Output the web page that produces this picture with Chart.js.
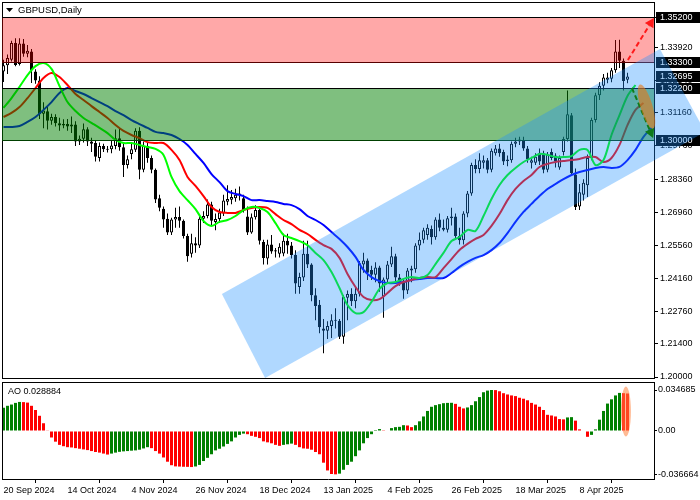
<!DOCTYPE html>
<html>
<head>
<meta charset="utf-8">
<script src="https://cdn.jsdelivr.net/npm/chart.js@4.4.1/dist/chart.umd.min.js"></script>
<style>
  html, body { margin: 0; padding: 0; background: #fff; }
  #wrap { position: relative; width: 700px; height: 500px; }
  #main { position: absolute; left: 0; top: 0; }
  #ao { position: absolute; left: 0; top: 380px; }
</style>
</head>
<body>
<div id="wrap">
  <canvas id="main" width="700" height="380"></canvas>
  <canvas id="ao" width="700" height="120"></canvas>
</div>
<script>
// GBPUSD daily candles, 20 Sep 2024 .. 24 Apr 2025
const opens = [1.3290,1.3316,1.3340,1.3410,1.3322,1.3408,1.3365,1.3375,1.3290,1.3252,
  1.3112,1.3122,1.3082,1.3098,1.3072,1.3062,1.3068,1.3058,1.3066,1.2995,
  1.3006,1.3046,1.2995,1.2988,1.2925,1.2975,1.2962,1.2962,1.2975,1.3008,
  1.2970,1.2895,1.2942,1.2960,1.3040,1.2875,1.2975,1.2925,1.2875,1.2755,
  1.2710,1.2668,1.2610,1.2665,1.2676,1.2660,1.2595,1.2520,1.2565,1.2555,
  1.2668,1.2680,1.2728,1.2655,1.2667,1.2690,1.2740,1.2748,1.2755,1.2768,
  1.2755,1.2678,1.2610,1.2675,1.2705,1.2570,1.2500,1.2560,1.2530,1.2520,
  1.2522,1.2575,1.2555,1.2515,1.2380,1.2420,1.2520,1.2475,1.2345,1.2305,
  1.2205,1.2195,1.2215,1.2240,1.2238,1.2170,1.2335,1.2350,1.2320,1.2352,
  1.2475,1.2492,1.2452,1.2432,1.2462,1.2340,1.2412,1.2475,1.2510,1.2420,
  1.2400,1.2365,1.2450,1.2455,1.2555,1.2580,1.2600,1.2625,1.2590,1.2665,
  1.2630,1.2622,1.2670,1.2678,1.2595,1.2578,1.2690,1.2775,1.2895,1.2878,
  1.2905,1.2915,1.2875,1.2945,1.2965,1.2950,1.2912,1.2915,1.2985,1.2995,
  1.3000,1.2965,1.2905,1.2905,1.2945,1.2945,1.2875,1.2950,1.2935,1.2885,
  1.2950,1.3005,1.3105,1.2855,1.2720,1.2770,1.2810,1.2925,1.3085,1.3190,
  1.3230,1.3255,1.3260,1.3295,1.3375,1.3335,1.3255];
const highs = [1.3340,1.3362,1.3420,1.3430,1.3431,1.3427,1.3402,1.3385,1.3300,1.3270,
  1.3160,1.3140,1.3112,1.3110,1.3095,1.3088,1.3090,1.3100,1.3080,1.3020,
  1.3070,1.3055,1.3010,1.3000,1.2990,1.2985,1.2975,1.3000,1.3045,1.3050,
  1.2985,1.2935,1.2990,1.3050,1.3055,1.2995,1.2990,1.2935,1.2880,1.2770,
  1.2720,1.2690,1.2672,1.2715,1.2720,1.2665,1.2605,1.2605,1.2590,1.2680,
  1.2700,1.2750,1.2740,1.2690,1.2710,1.2770,1.2810,1.2790,1.2795,1.2805,
  1.2770,1.2720,1.2690,1.2725,1.2720,1.2580,1.2580,1.2600,1.2545,1.2565,
  1.2605,1.2605,1.2570,1.2535,1.2440,1.2575,1.2575,1.2480,1.2375,1.2325,
  1.2245,1.2235,1.2265,1.2290,1.2245,1.2345,1.2365,1.2375,1.2380,1.2490,
  1.2525,1.2500,1.2470,1.2485,1.2470,1.2420,1.2490,1.2550,1.2520,1.2435,
  1.2410,1.2460,1.2470,1.2565,1.2610,1.2630,1.2645,1.2640,1.2675,1.2690,
  1.2665,1.2680,1.2715,1.2690,1.2630,1.2700,1.2785,1.2905,1.2920,1.2945,
  1.2935,1.2925,1.2965,1.2980,1.2985,1.2960,1.2935,1.2995,1.3010,1.3015,
  1.3015,1.2975,1.2930,1.2945,1.2965,1.2955,1.2950,1.2965,1.2945,1.2935,
  1.3015,1.3210,1.3115,1.2880,1.2815,1.2835,1.2940,1.3095,1.3200,1.3245,
  1.3280,1.3285,1.3305,1.3423,1.3424,1.3345,1.3285];
const lows = [1.3246,1.3280,1.3332,1.3312,1.3315,1.3352,1.3350,1.3242,1.3238,1.3090,
  1.3050,1.3045,1.3065,1.3058,1.3040,1.3050,1.3040,1.3030,1.2975,1.2980,
  1.2990,1.2975,1.2950,1.2910,1.2910,1.2950,1.2948,1.2945,1.2962,1.2955,
  1.2845,1.2880,1.2920,1.2950,1.2835,1.2865,1.2905,1.2860,1.2735,1.2700,
  1.2630,1.2600,1.2600,1.2630,1.2630,1.2585,1.2487,1.2505,1.2525,1.2545,
  1.2650,1.2670,1.2640,1.2620,1.2650,1.2680,1.2725,1.2730,1.2740,1.2745,
  1.2695,1.2600,1.2605,1.2665,1.2560,1.2475,1.2475,1.2520,1.2505,1.2505,
  1.2510,1.2520,1.2500,1.2352,1.2352,1.2405,1.2460,1.2320,1.2240,1.2185,
  1.2100,1.2160,1.2165,1.2205,1.2160,1.2140,1.2240,1.2300,1.2290,1.2340,
  1.2440,1.2410,1.2410,1.2400,1.2360,1.2250,1.2400,1.2465,1.2400,1.2385,
  1.2330,1.2350,1.2400,1.2440,1.2535,1.2565,1.2580,1.2560,1.2580,1.2615,
  1.2615,1.2610,1.2640,1.2585,1.2560,1.2560,1.2675,1.2765,1.2860,1.2860,
  1.2880,1.2860,1.2865,1.2935,1.2930,1.2895,1.2890,1.2905,1.2970,1.2980,
  1.2955,1.2905,1.2880,1.2895,1.2895,1.2860,1.2865,1.2915,1.2885,1.2875,
  1.2935,1.2995,1.2850,1.2705,1.2705,1.2745,1.2760,1.2915,1.3075,1.3170,
  1.3210,1.3240,1.3245,1.3285,1.3305,1.3210,1.3240];
const closes = [1.3316,1.3347,1.3410,1.3318,1.3408,1.3365,1.3378,1.3296,1.3252,1.3110,
  1.3125,1.3082,1.3098,1.3072,1.3062,1.3068,1.3058,1.3066,1.2995,1.3006,
  1.3046,1.2995,1.2985,1.2930,1.2975,1.2962,1.2960,1.2978,1.3008,1.2970,
  1.2895,1.2920,1.2962,1.3040,1.2875,1.2975,1.2925,1.2875,1.2750,1.2715,
  1.2665,1.2610,1.2665,1.2676,1.2660,1.2595,1.2510,1.2565,1.2555,1.2668,
  1.2680,1.2728,1.2660,1.2667,1.2695,1.2745,1.2752,1.2760,1.2770,1.2775,
  1.2705,1.2610,1.2675,1.2705,1.2575,1.2503,1.2560,1.2530,1.2535,1.2550,
  1.2575,1.2555,1.2515,1.2395,1.2422,1.2520,1.2475,1.2345,1.2300,1.2210,
  1.2195,1.2215,1.2240,1.2238,1.2170,1.2338,1.2350,1.2320,1.2352,1.2480,
  1.2492,1.2440,1.2432,1.2462,1.2395,1.2412,1.2475,1.2510,1.2420,1.2400,
  1.2365,1.2450,1.2458,1.2555,1.2580,1.2620,1.2630,1.2590,1.2665,1.2630,
  1.2622,1.2670,1.2678,1.2595,1.2578,1.2690,1.2775,1.2895,1.2878,1.2915,
  1.2915,1.2875,1.2955,1.2965,1.2945,1.2910,1.2918,1.2985,1.2995,1.3003,
  1.2965,1.2920,1.2915,1.2930,1.2910,1.2875,1.2940,1.2925,1.2910,1.2925,
  1.3005,1.3110,1.2860,1.2718,1.2780,1.2820,1.2925,1.3085,1.3190,1.3230,
  1.3265,1.3265,1.3295,1.3375,1.3335,1.3250,1.32695];

// Alligator lines, one reading every LINE_STEP bars (they run a few bars past the last candle)
const LINE_STEP = 2;
const lipsLine = [1.3136,1.3178,1.3225,1.3275,1.3313,1.3326,1.3301,1.3229,1.3161,1.3123,
  1.3094,1.3073,1.3052,1.3030,1.3001,1.2988,1.2988,1.2980,1.2971,1.2963,
  1.2938,1.2845,1.2785,1.2747,1.2709,1.2659,1.2638,1.2655,1.2663,1.2680,
  1.2705,1.2718,1.2714,1.2697,1.2650,1.2600,1.2587,1.2574,1.2557,1.2524,
  1.2494,1.2443,1.2376,1.2304,1.2270,1.2274,1.2317,1.2372,1.2397,1.2401,
  1.2414,1.2422,1.2418,1.2431,1.2477,1.2524,1.2574,1.2591,1.2621,1.2617,
  1.2680,1.2752,1.2811,1.2853,1.2883,1.2908,1.2925,1.2942,1.2938,1.2929,
  1.2929,1.2933,1.2959,1.2959,1.2895,1.2916,1.3022,1.3106,1.3187,1.3233];
const teethLine = [1.3098,1.3115,1.3140,1.3178,1.3220,1.3263,1.3284,1.3267,1.3233,1.3195,
  1.3170,1.3144,1.3119,1.3094,1.3064,1.3039,1.3022,1.3009,1.2992,1.2988,
  1.2988,1.2959,1.2916,1.2845,1.2807,1.2764,1.2718,1.2697,1.2693,1.2693,
  1.2705,1.2714,1.2718,1.2714,1.2688,1.2663,1.2646,1.2621,1.2604,1.2579,
  1.2557,1.2541,1.2503,1.2435,1.2380,1.2338,1.2325,1.2329,1.2355,1.2384,
  1.2401,1.2410,1.2418,1.2422,1.2422,1.2460,1.2498,1.2536,1.2562,1.2583,
  1.2600,1.2638,1.2688,1.2747,1.2794,1.2828,1.2853,1.2887,1.2900,1.2908,
  1.2912,1.2916,1.2921,1.2929,1.2929,1.2908,1.2925,1.2980,1.3064,1.3128,
  1.3157];
const jawLine = [1.3056,1.3056,1.3060,1.3077,1.3098,1.3128,1.3161,1.3199,1.3220,1.3208,
  1.3195,1.3178,1.3161,1.3144,1.3123,1.3106,1.3085,1.3068,1.3052,1.3035,
  1.3030,1.3022,1.3005,1.2980,1.2942,1.2904,1.2857,1.2823,1.2785,1.2773,
  1.2764,1.2747,1.2747,1.2743,1.2739,1.2731,1.2726,1.2709,1.2680,1.2663,
  1.2642,1.2612,1.2583,1.2549,1.2507,1.2452,1.2422,1.2405,1.2397,1.2397,
  1.2401,1.2410,1.2414,1.2418,1.2418,1.2418,1.2439,1.2465,1.2486,1.2503,
  1.2515,1.2536,1.2566,1.2608,1.2655,1.2697,1.2731,1.2764,1.2794,1.2815,
  1.2836,1.2853,1.2866,1.2874,1.2883,1.2887,1.2883,1.2887,1.2916,1.2959,
  1.3014,1.3052];

// Awesome Oscillator, one value per candle
const aoValues = [0.01968,0.02132,0.02239,0.02378,0.0246,0.02444,0.02403,0.02132,0.01779,0.01287,
  0.00656,0.00057,-0.00549,-0.00902,-0.01173,-0.01287,-0.01369,-0.01394,-0.01451,-0.01501,
  -0.01558,-0.01615,-0.01697,-0.01779,-0.01829,-0.01911,-0.01993,-0.01911,-0.01829,-0.01763,
  -0.01722,-0.01697,-0.01665,-0.0164,-0.01583,-0.01476,-0.01369,-0.01451,-0.01697,-0.01911,
  -0.02239,-0.02599,-0.02895,-0.02993,-0.03009,-0.03026,-0.03034,-0.0305,-0.03001,-0.0287,
  -0.02542,-0.02271,-0.01968,-0.0164,-0.01501,-0.01312,-0.01091,-0.00877,-0.00549,-0.00328,
  -0.00221,-0.00271,-0.0041,-0.00492,-0.00599,-0.00877,-0.00959,-0.01041,-0.01173,-0.01255,
  -0.01173,-0.01123,-0.01066,-0.01173,-0.01369,-0.01476,-0.01501,-0.01583,-0.01779,-0.01968,
  -0.02681,-0.03337,-0.0364,-0.036664,-0.03608,-0.0328,-0.0287,-0.02599,-0.02132,-0.0164,
  -0.01041,-0.00599,-0.00271,0.00082,0.00164,0.00066,0.00041,0.00246,0.00328,0.00353,
  0.00492,0.00467,0.00328,0.00492,0.0082,0.0123,0.01697,0.0205,0.02189,0.02271,
  0.02353,0.02378,0.02386,0.02296,0.0205,0.01911,0.01993,0.02189,0.02517,0.0287,
  0.0328,0.03419,0.034685,0.0346,0.03362,0.03198,0.03091,0.03009,0.02952,0.02813,
  0.02731,0.02599,0.02378,0.02239,0.0205,0.01779,0.01369,0.01312,0.0123,0.01009,
  0.00984,0.01148,0.01173,0.00877,0.00139,-0.00041,-0.00492,-0.00328,0.00139,0.00959,
  0.01697,0.02321,0.02681,0.03009,0.03223,0.03198,0.03173];
const aoCaption = 'AO 0.028884';

// axis labels
const tickLabels = ['20 Sep 2024','14 Oct 2024','4 Nov 2024','26 Nov 2024','18 Dec 2024',
  '13 Jan 2025','4 Feb 2025','26 Feb 2025','18 Mar 2025','8 Apr 2025'];
const TICK_EVERY = 16;
const priceTicks = [1.3520,1.3392,1.3254,1.3116,1.2976,1.2836,1.2696,1.2556,1.2416,1.2276,1.2140,1.2000];
const aoTicks = [0.034685, 0, -0.036664];

// drawn objects on the price chart (bar index, price)
const markedPrices = [1.35200, 1.33300, 1.32695, 1.32200, 1.30000];
const levelLines = [1.3520, 1.3330, 1.3220, 1.3000];
const resistZone = [1.3330, 1.3520];
const supportZone = [1.3000, 1.3220];
const channel = [[54.6, 1.23505], [164.1, 1.33852], [175.4, 1.30347], [65.4, 1.19958]];
const upArrow = [[156.1, 1.33387], [162.6, 1.35161]];
const downArrow = [[157.1, 1.32205], [162.4, 1.30093]];
const priceMark = [160.75, 1.31423];
const aoMark = [155.6, 0.0165];

// view
const X_MIN = -0.375, X_MAX = 162.625;
const PRICE_MIN = 1.19958, PRICE_MAX = 1.35836;
const AO_MIN = -0.040609, AO_MAX = 0.041455;
const FONT = 'Liberation Sans';

function arrow(ctx, x1, y1, x2, y2, color) {
  const ang = Math.atan2(y2 - y1, x2 - x1), head = 9;
  const bx = x2 - head * Math.cos(ang), by = y2 - head * Math.sin(ang);
  ctx.strokeStyle = color;
  ctx.lineWidth = 2;
  ctx.setLineDash([5, 3]);
  ctx.beginPath();
  ctx.moveTo(x1, y1);
  ctx.lineTo(bx, by);
  ctx.stroke();
  ctx.setLineDash([]);
  ctx.fillStyle = color;
  ctx.beginPath();
  ctx.moveTo(x2, y2);
  ctx.lineTo(bx + 5 * Math.sin(ang), by - 5 * Math.cos(ang));
  ctx.lineTo(bx - 5 * Math.sin(ang), by + 5 * Math.cos(ang));
  ctx.closePath();
  ctx.fill();
}

function frame(ctx, a) {
  ctx.fillStyle = '#000';
  ctx.fillRect(a.left, a.top, 1, a.bottom - a.top);
  ctx.fillRect(a.left, a.top, a.right - a.left, 1);
}

const priceOverlay = {
  id: 'priceOverlay',
  afterDatasetsDraw(chart) {
    const { ctx, chartArea: a, scales: { x, y } } = chart;
    const px = i => x.getPixelForValue(i), py = v => y.getPixelForValue(v);
    const w = a.right - a.left;
    ctx.save();
    frame(ctx, a);
    ctx.fillRect(a.left, a.bottom, w + 1, 1);
    // horizontal levels
    levelLines.forEach(v => ctx.fillRect(a.left, Math.round(py(v)), w, 1));
    // zones
    const zone = (lo, hi, col) => {
      const t = Math.round(py(hi)) + 1, b = Math.round(py(lo)) + 1;
      ctx.fillStyle = col;
      ctx.fillRect(a.left, t, w, b - t);
    };
    zone(resistZone[0], resistZone[1], 'rgba(255,0,0,0.34)');
    zone(supportZone[0], supportZone[1], 'rgba(0,128,0,0.5)');
    // price boxes on the axis
    ctx.font = '9px "' + FONT + '"';
    ctx.textBaseline = 'middle';
    markedPrices.forEach(v => {
      const yy = Math.round(py(v));
      ctx.fillStyle = '#000';
      ctx.fillRect(a.right + 2, yy - 5, 46, 11);
      ctx.fillStyle = '#fff';
      ctx.fillText(v.toFixed(5), a.right + 6, yy + 0.5);
    });
    // rising channel
    ctx.beginPath();
    channel.forEach(([i, v], k) => k ? ctx.lineTo(px(i), py(v)) : ctx.moveTo(px(i), py(v)));
    ctx.closePath();
    ctx.fillStyle = 'rgba(30,144,255,0.35)';
    ctx.fill();
    // scenario arrows
    arrow(ctx, px(upArrow[0][0]), py(upArrow[0][1]), px(upArrow[1][0]), py(upArrow[1][1]), '#ff1a1a');
    arrow(ctx, px(downArrow[0][0]), py(downArrow[0][1]), px(downArrow[1][0]), py(downArrow[1][1]), '#0f7a1a');
    ctx.fillStyle = 'rgba(230,120,20,0.6)';
    ctx.beginPath();
    ctx.ellipse(px(priceMark[0]), py(priceMark[1]), 6, 23, -0.29, 0, Math.PI * 2);
    ctx.fill();
    ctx.restore();
  },
  afterDraw(chart) {
    const ctx = chart.ctx;
    ctx.save();
    ctx.fillStyle = '#000';
    ctx.beginPath();
    ctx.moveTo(6, 8); ctx.lineTo(13, 8); ctx.lineTo(9.5, 12);
    ctx.closePath();
    ctx.fill();
    ctx.font = '9.5px "' + FONT + '"';
    ctx.textBaseline = 'middle';
    ctx.fillText('GBPUSD,Daily', 18, 10.5);
    ctx.restore();
  }
};

const aoOverlay = {
  id: 'aoOverlay',
  afterDatasetsDraw(chart) {
    const { ctx, chartArea: a, scales: { x, y } } = chart;
    ctx.save();
    frame(ctx, a);
    ctx.fillStyle = 'rgba(255,130,60,0.55)';
    ctx.beginPath();
    ctx.ellipse(x.getPixelForValue(aoMark[0]), y.getPixelForValue(aoMark[1]), 5, 25, 0, 0, Math.PI * 2);
    ctx.fill();
    ctx.fillStyle = '#000';
    ctx.font = '9px "' + FONT + '"';
    ctx.textBaseline = 'middle';
    ctx.fillText(aoCaption, 8, 11.5);
    ctx.restore();
  }
};

const linePoints = arr => arr.map((v, k) => ({ x: k * LINE_STEP, y: v }));
const common = {
  responsive: false, animation: false, devicePixelRatio: 1, events: [],
  plugins: { legend: { display: false }, tooltip: { enabled: false } }
};

new Chart(document.getElementById('main'), {
  type: 'bar',
  data: {
    datasets: [
      { type: 'line', data: linePoints(lipsLine), borderColor: '#00ff00', borderWidth: 2, pointRadius: 0, tension: 0.3, order: 1 },
      { type: 'line', data: linePoints(teethLine), borderColor: '#ff0000', borderWidth: 2, pointRadius: 0, tension: 0.3, order: 2 },
      { type: 'line', data: linePoints(jawLine), borderColor: '#0000ff', borderWidth: 2, pointRadius: 0, tension: 0.3, order: 3 },
      {
        data: closes.map((c, i) => ({ x: i, y: [opens[i], c] })),
        backgroundColor: closes.map((c, i) => c >= opens[i] ? '#ffffff' : '#000000'),
        borderColor: '#000', borderWidth: 1, borderSkipped: false, barThickness: 3,
        minBarLength: 1, grouped: false, inflateAmount: 0, order: 4
      },
      {
        data: highs.map((h, i) => ({ x: i, y: [lows[i], h] })),
        backgroundColor: '#000', borderWidth: 0, barThickness: 1,
        grouped: false, inflateAmount: 0, order: 5
      }
    ]
  },
  options: {
    ...common,
    layout: { padding: { left: 2, top: 2, right: 0, bottom: 2 } },
    scales: {
      x: { type: 'linear', min: X_MIN, max: X_MAX, offset: false, display: false },
      y: {
        position: 'right', min: PRICE_MIN, max: PRICE_MAX,
        afterBuildTicks: s => { s.ticks = priceTicks.map(v => ({ value: v })); },
        afterFit: s => { s.width = 46; s.paddingTop = 0; s.paddingBottom = 0; },
        ticks: { autoSkip: false, color: '#000', padding: 2, font: { family: FONT, size: 9 }, callback: v => v.toFixed(5) },
        grid: { drawOnChartArea: false, tickLength: 4, color: '#000' },
        border: { color: '#000' }
      }
    }
  },
  plugins: [priceOverlay]
});

new Chart(document.getElementById('ao'), {
  type: 'bar',
  data: {
    datasets: [{
      data: aoValues.map((v, i) => ({ x: i, y: v })),
      backgroundColor: aoValues.map((v, i) => (i === 0 || v > aoValues[i - 1]) ? '#008000' : '#ff0000'),
      borderWidth: 0, barThickness: 3, grouped: false, inflateAmount: 0
    }]
  },
  options: {
    ...common,
    layout: { padding: { left: 2, top: 2, right: 0, bottom: 0 } },
    scales: {
      x: {
        type: 'linear', min: X_MIN, max: X_MAX, offset: false,
        afterBuildTicks: s => { s.ticks = tickLabels.map((_, k) => ({ value: k * TICK_EVERY })); },
        afterFit: s => { s.height = 21; s.paddingLeft = 0; s.paddingRight = 0; },
        ticks: { autoSkip: false, maxRotation: 0, align: 'start', padding: 2, color: '#000',
                 font: { family: FONT, size: 9 }, callback: v => tickLabels[Math.round(v / TICK_EVERY)] },
        grid: { drawOnChartArea: false, tickLength: 4, color: '#000' },
        border: { color: '#000' }
      },
      y: {
        position: 'right', min: AO_MIN, max: AO_MAX,
        afterBuildTicks: s => { s.ticks = aoTicks.map(v => ({ value: v })); },
        afterFit: s => { s.width = 46; s.paddingTop = 0; s.paddingBottom = 0; },
        ticks: { autoSkip: false, color: '#000', padding: 1, font: { family: FONT, size: 9 },
                 callback: v => v === 0 ? '0.00' : v.toFixed(6) },
        grid: { drawOnChartArea: false, tickLength: 3, color: '#000' },
        border: { color: '#000' }
      }
    }
  },
  plugins: [aoOverlay]
});
</script>
</body>
</html>
